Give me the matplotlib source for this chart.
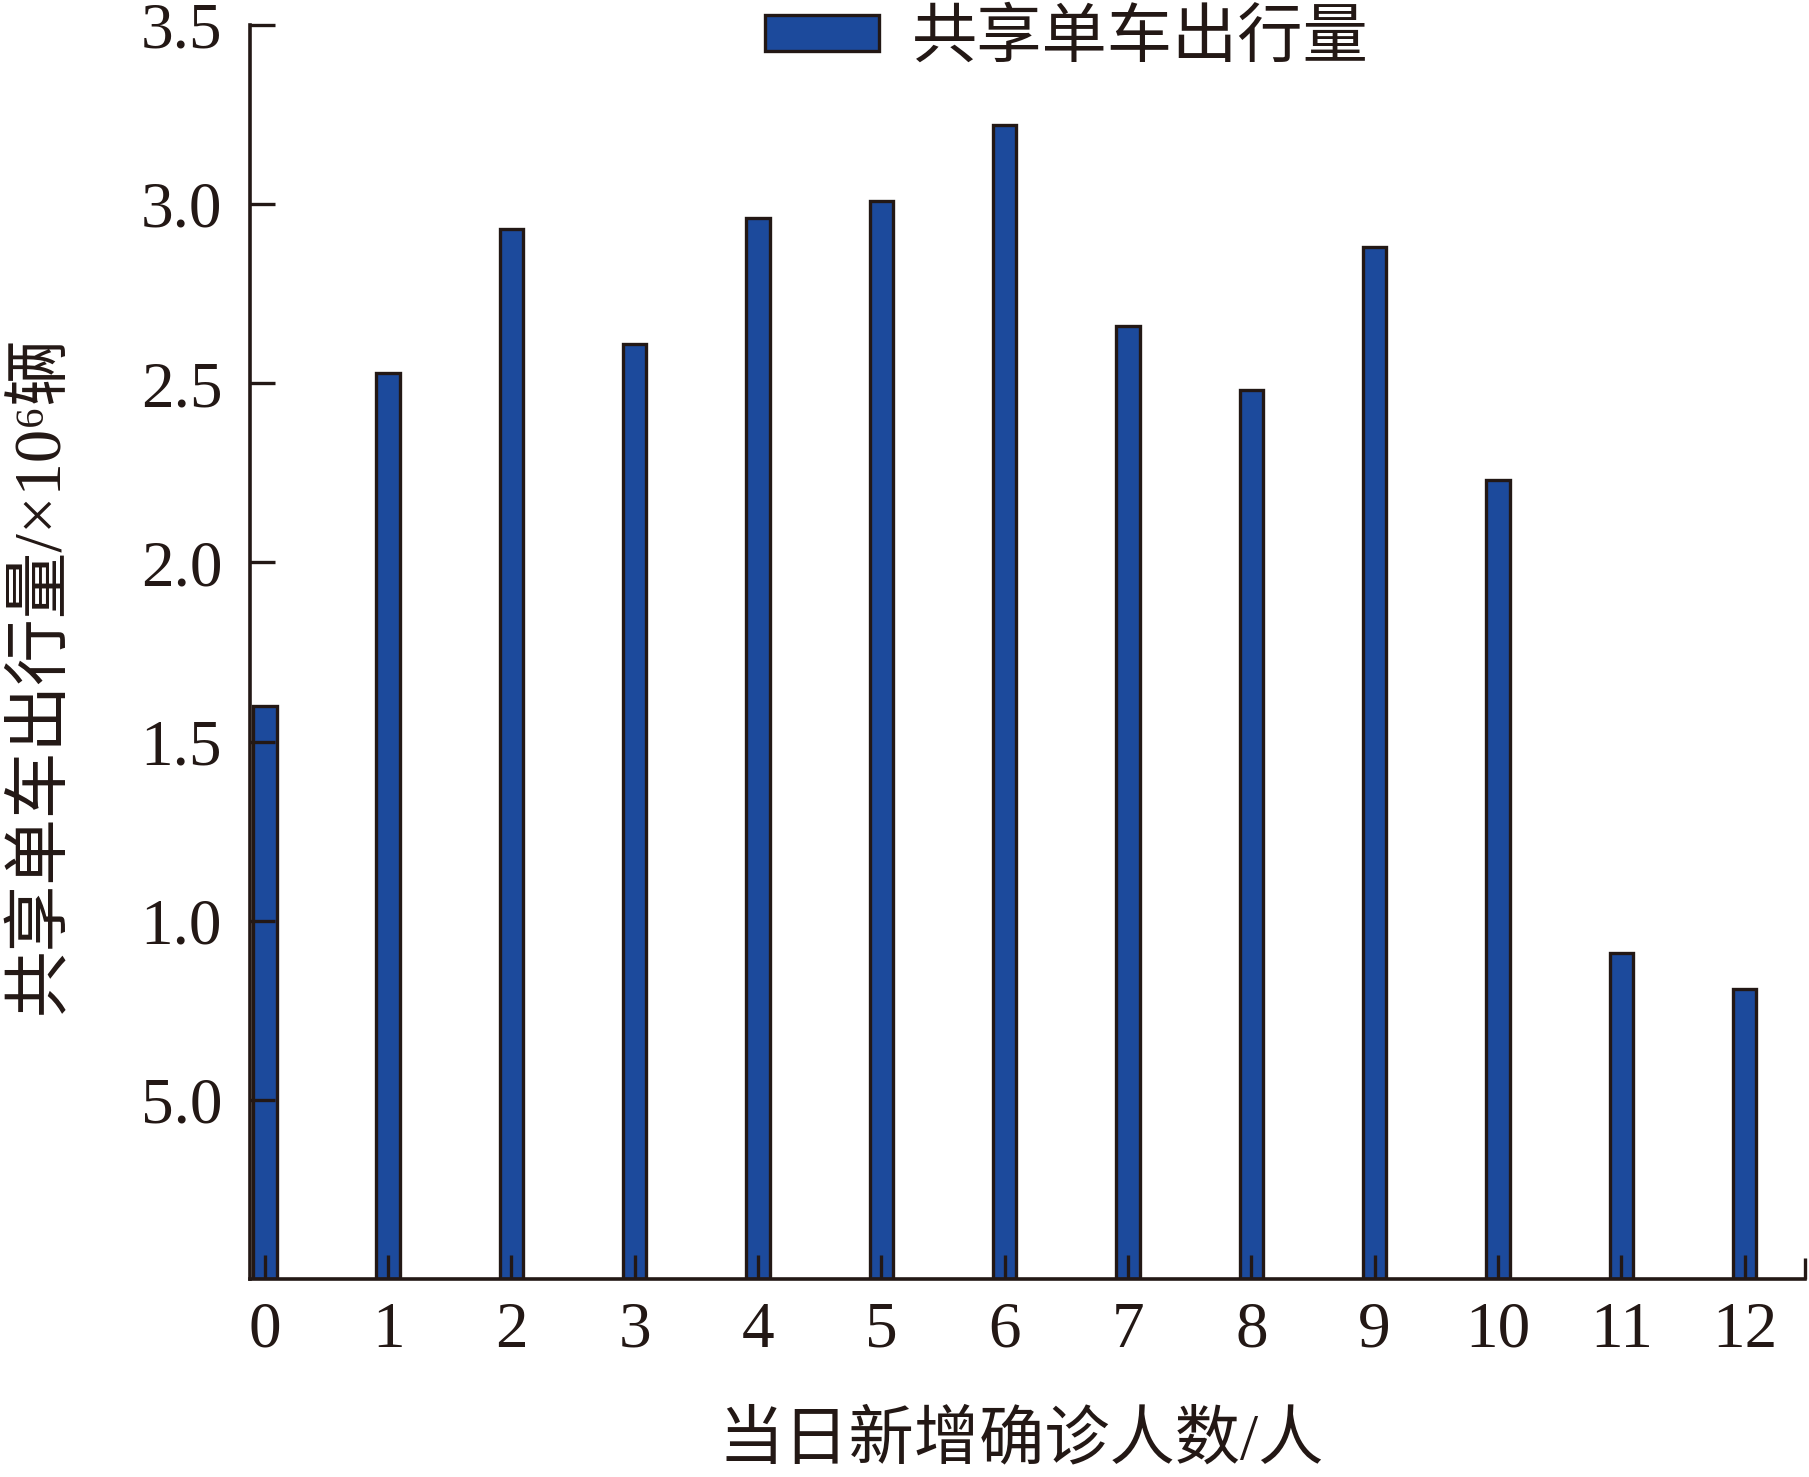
import matplotlib
matplotlib.use("Agg")
import matplotlib.pyplot as plt

# ---- data ----
categories = list(range(13))
trips = [1.60, 2.53, 2.93, 2.61, 2.96, 3.01, 3.22, 2.66, 2.48, 2.88, 2.23, 0.91, 0.81]
x_ticklabels = [str(c) for c in categories]
y_ticks = [0.5, 1.0, 1.5, 2.0, 2.5, 3.0, 3.5]
y_ticklabels = ["5.0", "1.0", "1.5", "2.0", "2.5", "3.0", "3.5"]
series_name = "共享单车出行量"
x_label = "当日新增确诊人数/人"
y_label = "共享单车出行量/×10⁶辆"

INK = "#231815"
BLUE = "#1C4A9C"
FAM = ["Liberation Serif", "Noto Sans CJK SC", "DejaVu Serif"]

plt.rcParams["font.family"] = FAM

fig = plt.figure(figsize=(18.09, 14.77), dpi=100)
W, H = 1809, 1477
ax = fig.add_axes([250 / W, 1 - 1279 / H, (1805 - 250) / W, (1279 - 25) / H])

ax.bar(categories, trips, width=0.19, color=BLUE, edgecolor=INK,
       linewidth=2.4, label=series_name, zorder=1)
ax.set_axisbelow(False)

XMAX = 12.49
ax.set_xlim(-0.12, XMAX)
ax.set_ylim(0, 3.5)

for s in ["top", "right"]:
    ax.spines[s].set_visible(False)
for s in ["left", "bottom"]:
    ax.spines[s].set_color(INK)
    ax.spines[s].set_linewidth(2.6)
    ax.spines[s].set_zorder(3)

ax.set_xticks(categories)
ax.set_xticklabels(x_ticklabels)
ax.set_xticks([XMAX], minor=True)
ax.set_yticks(y_ticks)
ax.set_yticklabels(y_ticklabels)

ax.tick_params(axis="x", which="major", direction="in", length=17, width=2.4,
               color=INK, labelsize=47, labelcolor=INK, pad=16)
ax.tick_params(axis="x", which="minor", direction="in", length=15, width=2.4,
               color=INK)
ax.tick_params(axis="y", which="major", direction="in", length=18, width=2.4,
               color=INK, labelsize=47, labelcolor=INK, pad=20)
for t in ax.get_xticklabels() + ax.get_yticklabels():
    t.set_family(FAM)

leg = fig.legend(loc="center left", bbox_to_anchor=(765 / W, 1 - 40 / H),
                 frameon=False, fontsize=47, handlelength=1.75,
                 handleheight=0.45, handletextpad=0.5, borderpad=0,
                 borderaxespad=0)
for txt in leg.get_texts():
    txt.set_color(INK)
    txt.set_family(FAM)

fig.text(1021 / W, 1 - 1442 / H, x_label, ha="center", va="center",
         fontsize=47, color=INK, family=FAM)
fig.text(41 / W, 1 - 675 / H, y_label, ha="center", va="center",
         rotation=90, fontsize=48, color=INK, family=FAM)

fig.savefig("out.png", dpi=100)
